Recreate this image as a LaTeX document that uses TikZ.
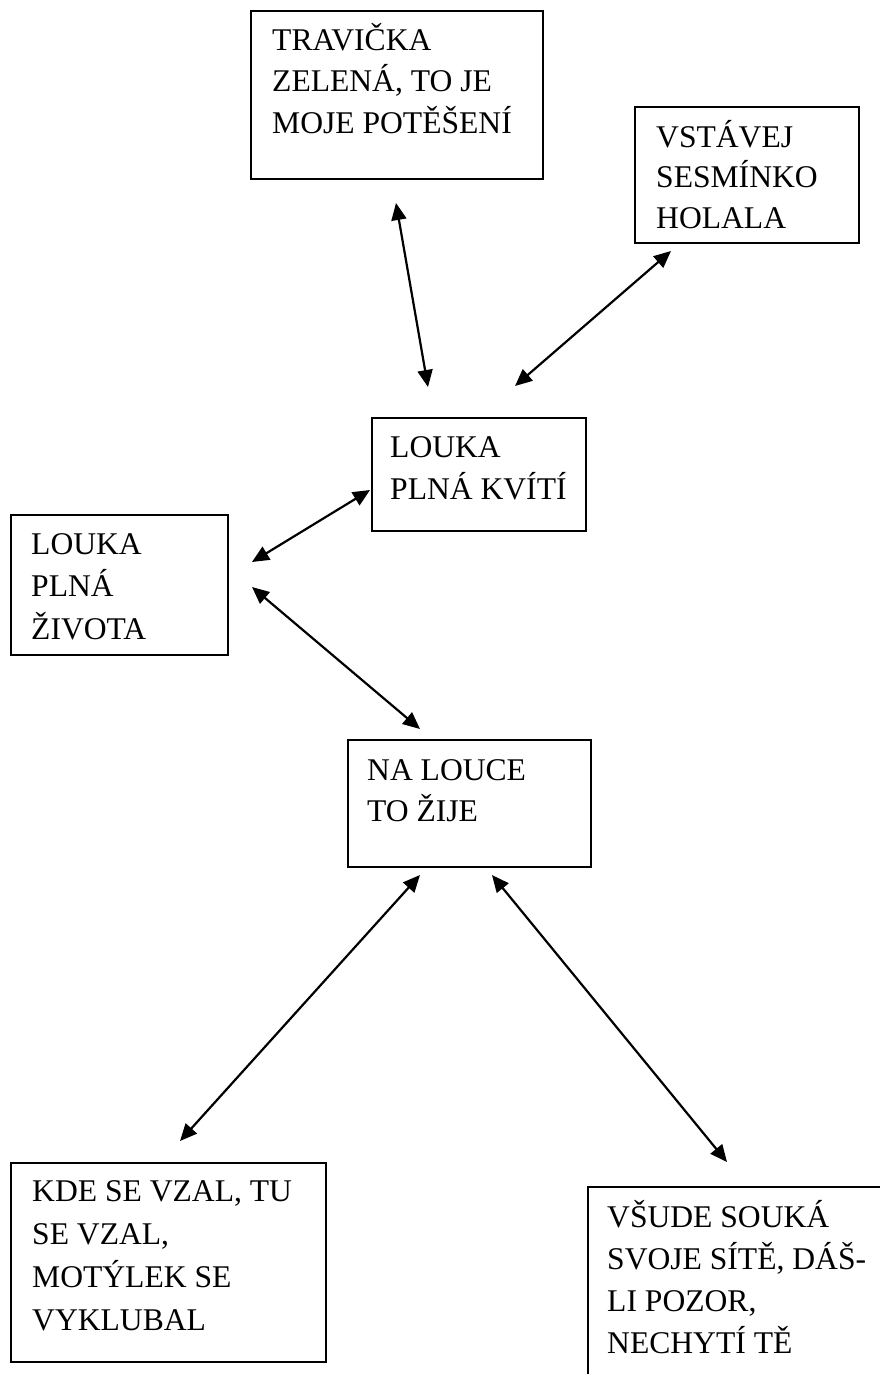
\documentclass[tikz,border=0pt]{standalone}
\usepackage{fontspec}
\setmainfont{Liberation Serif}
\usetikzlibrary{arrows.meta}
\tikzset{
  box/.style={draw=black, line width=1.6pt, anchor=north west, inner sep=0pt},
  txt/.style={anchor=base west, inner sep=0pt, font=\fontsize{31.6}{41}\selectfont},
  link/.style={line width=2.2pt, {Triangle[length=17pt,width=15pt]}-{Triangle[length=17pt,width=15pt]}}
}
\newcommand{\boxlines}[2]{\vtop{\baselineskip=#1pt\lineskiplimit=-100pt #2}}
\begin{document}
\begin{tikzpicture}[x=1pt,y=-1pt]
\useasboundingbox (0,0) rectangle (880,1374);
\clip (0,0) rectangle (880,1374);
\fill[white] (0,0) rectangle (880,1374);
% boxes
\node[box, minimum width=292pt, minimum height=168pt] (b1) at (250,10) {};
\node[box, minimum width=224pt, minimum height=136pt] (b2) at (634,106) {};
\node[box, minimum width=214pt, minimum height=113pt] (b3) at (371,417) {};
\node[box, minimum width=217pt, minimum height=140pt] (b4) at (10,514) {};
\node[box, minimum width=243pt, minimum height=127pt] (b5) at (347,739) {};
\node[box, minimum width=315pt, minimum height=199pt] (b6) at (10,1162) {};
\node[box, minimum width=320pt, minimum height=220pt] (b7) at (587,1186) {};
% texts
\node[txt] (t1) at (272,50) {\boxlines{41.5}{\hbox{TRAVIČKA}\hbox{ZELENÁ, TO JE}\hbox{MOJE POTĚŠENÍ}}};
\node[txt] (t2) at (656,147) {\boxlines{40.5}{\hbox{VSTÁVEJ}\hbox{SESMÍNKO}\hbox{HOLALA}}};
\node[txt] (t3) at (390,457) {\boxlines{42}{\hbox{LOUKA}\hbox{PLNÁ KVÍTÍ}}};
\node[txt] (t4) at (31,554) {\boxlines{42.5}{\hbox{LOUKA}\hbox{PLNÁ}\hbox{ŽIVOTA}}};
\node[txt] (t5) at (367,780) {\boxlines{41}{\hbox{NA LOUCE}\hbox{TO ŽIJE}}};
\node[txt] (t6) at (32,1201) {\boxlines{43}{\hbox{KDE SE VZAL, TU}\hbox{SE VZAL,}\hbox{MOTÝLEK SE}\hbox{VYKLUBAL}}};
\node[txt] (t7) at (607,1227) {\boxlines{42}{\hbox{VŠUDE SOUKÁ}\hbox{SVOJE SÍTĚ, DÁŠ-}\hbox{LI POZOR,}\hbox{NECHYTÍ TĚ}}};
% connector end points
\coordinate (a1s) at (396,203);
\coordinate (a1e) at (428,387);
\coordinate (a2s) at (671,251);
\coordinate (a2e) at (515,386);
\coordinate (a3s) at (370,490);
\coordinate (a3e) at (252,562);
\coordinate (a4s) at (252,587);
\coordinate (a4e) at (420,729);
\coordinate (a5s) at (420,875);
\coordinate (a5e) at (180,1141);
\coordinate (a6s) at (492,875);
\coordinate (a6e) at (727,1162);
\draw[link] (a1s) -- (a1e);
\draw[link] (a2s) -- (a2e);
\draw[link] (a3s) -- (a3e);
\draw[link] (a4s) -- (a4e);
\draw[link] (a5s) -- (a5e);
\draw[link] (a6s) -- (a6e);
\end{tikzpicture}
\end{document}
